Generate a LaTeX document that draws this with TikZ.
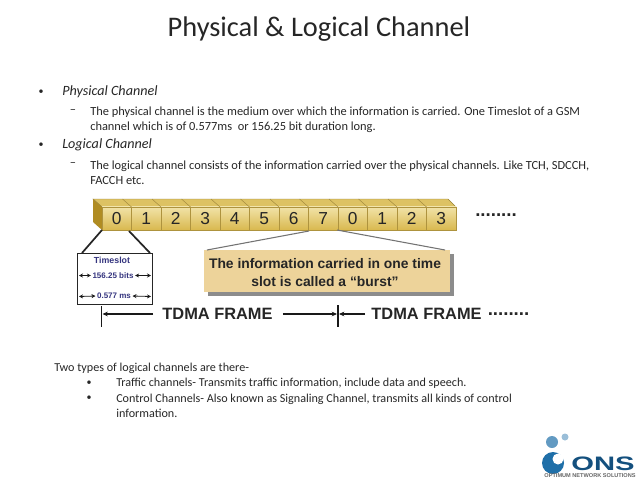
\documentclass[tikz,border=0pt]{standalone}
\usepackage{fontspec}
\setmainfont{Carlito}
\newfontfamily\figfont{Liberation Sans}
\usepackage{tikz}
\usetikzlibrary{arrows.meta}
\definecolor{SlotTop}{HTML}{DDC263}
\definecolor{SlotSide}{HTML}{B08C22}
\definecolor{SlotLight}{HTML}{F1E3A8}
\definecolor{SlotDark}{HTML}{D9B84E}
\definecolor{BurstFill}{HTML}{EDD39A}
\definecolor{SlotNavy}{HTML}{35357F}
\definecolor{LogoBlue}{HTML}{1F6FA8}
\definecolor{LogoDark}{HTML}{14507E}
\tikzset{
  headline/.style={anchor=center,font=\fontsize{21.3}{25}\selectfont,text=black!85},
  bodytext/.style={anchor=west,align=left,inner sep=0pt,font=\fontsize{9.3}{11.25}\selectfont,text=black!85},
  lowertext/.style={anchor=west,align=left,inner sep=0pt,font=\fontsize{9.1}{11.25}\selectfont,text=black!85},
  toptext/.style={anchor=west,inner sep=0pt,font=\fontsize{10.6}{12}\itshape\selectfont,text=black!85},
  mark dot/.style={anchor=center,inner sep=0pt,font=\fontsize{7.5}{9}\selectfont,text=black!85},
  slotcell/.style={draw=SlotDark!80!black,line width=0.3pt,top color=SlotLight,bottom color=SlotDark,minimum width=22.1pt,minimum height=17.3pt,inner sep=0pt,font=\figfont\fontsize{13}{14}\selectfont,text=black!85},
  slotface/.style={fill=SlotTop,draw=SlotDark!70!black,line width=0.3pt},
  infobox/.style={draw=black!85,fill=white,line width=0.7pt,minimum width=56.2pt,minimum height=38.2pt,inner sep=0pt},
  infotext/.style={inner sep=0pt,font=\figfont\fontsize{6}{7}\bfseries\selectfont,text=SlotNavy},
  burstbox/.style={fill=BurstFill,minimum width=184.5pt,minimum height=31.5pt,inner sep=0pt},
  bursttext/.style={inner sep=0pt,align=center,font=\figfont\fontsize{10.4}{13.2}\bfseries\selectfont,text=black!85},
  framelabel/.style={inner sep=0pt,font=\figfont\fontsize{12.3}{14}\bfseries\selectfont,text=black!85},
  framedots/.style={inner sep=0pt,font=\figfont\fontsize{14}{14}\bfseries\selectfont,text=black!85},
  frameline/.style={draw=black!90,line width=0.9pt,-{Stealth[length=4pt,width=3.5pt]}},
  frametick/.style={draw=black!90,line width=1.4pt},
  spanline/.style={draw=black!90,line width=0.6pt,{Stealth[length=3pt,width=3pt]}-{Stealth[length=3pt,width=3pt]}},
}
\begin{document}
\begin{tikzpicture}[x=0.75pt,y=-0.75pt]
\useasboundingbox (0,0) rectangle (638,479);
\node[headline] (title) at (319,29.5) {Physical \& Logical Channel};
\node[mark dot] (b1) at (41,92) {•};
\node[toptext] (physical) at (62,92) {Physical Channel};
\node[mark dot] (d1) at (73,112) {\fontsize{9.3}{11}\selectfont –};
\node[bodytext] (physicaltext) at (90,119.5) {The physical channel is the medium over which the information is carried. One Timeslot of a GSM\\channel which is of 0.577ms\ \ or 156.25 bit duration long.};
\node[mark dot] (b2) at (41,145) {•};
\node[toptext] (logical) at (62,145) {Logical Channel};
\node[mark dot] (d2) at (73,165) {\fontsize{9.3}{11}\selectfont –};
\node[bodytext] (logicaltext) at (90,172.5) {The logical channel consists of the information carried over the physical channels. Like TCH, SDCCH,\\FACCH etc.};
\fill[SlotTop,draw=SlotDark!70!black,line width=0.3pt] (93,199) -- (448,199) -- (456,207) -- (102,207) -- cycle;
\fill[SlotSide] (93,199) -- (102,207) -- (102,230) -- (93,222) -- cycle;
\foreach \i/\lab in {0/0,1/1,2/2,3/3,4/4,5/5,6/6,7/7,8/0,9/1,10/2,11/3} {
  \node[slotcell] (slot\i) at ({116.75+29.5*\i},218.5) {\lab};
  \draw[slotface] ({93+29.5*\i},199) -- ({102+29.5*\i},207);
}
\node[framedots] (topdots) at (496,215) {........};
\node[infobox] (timeslot) at (114.5,278.5) {};
\coordinate (tsleft) at (102,230);
\coordinate (tsright) at (129,231);
\coordinate (boxleft) at (82,253);
\coordinate (boxright) at (150,253);
\draw[line width=1.3pt,black!85] (tsleft) -- (boxleft);
\draw[line width=1.3pt,black!85] (tsright) -- (boxright);
\node[infotext] (tstitle) at (112,260) {\fontsize{6.6}{8}\selectfont Timeslot};
\node[infotext,fill=white,inner xsep=1pt] (tsbits) at (113,275.5) {156.25 bits};
\node[infotext,fill=white,inner xsep=1pt] (tsms) at (114,296) {0.577 ms};
\coordinate (bitsl) at (79,275.5);
\coordinate (bitsr) at (151,275.5);
\coordinate (msl) at (79,296.5);
\coordinate (msr) at (151,296.5);
\draw[spanline] (bitsl) -- (tsbits.west);
\draw[spanline] (bitsr) -- (tsbits.east);
\draw[spanline] (msl) -- (tsms.west);
\draw[spanline] (msr) -- (tsms.east);
\fill[black!45] (208,254) rectangle (454,296);
\node[burstbox] (burst) at (327,271) {};
\node[bursttext] (bursttext) at (325,272.5) {The information carried in one time\\slot is called a “burst”};
\coordinate (burstl) at (309,231);
\coordinate (burstr) at (337,230);
\coordinate (burstbl) at (207,250);
\coordinate (burstbr) at (445,250);
\draw[line width=0.8pt,black!55] (burstl) -- (burstbl);
\draw[line width=0.8pt,black!55] (burstr) -- (burstbr);
\node[framelabel] (frameone) at (217.5,314) {TDMA FRAME};
\node[framelabel] (frametwo) at (426.5,314) {TDMA FRAME};
\node[framedots] (framedotsr) at (508.5,314) {........};
\coordinate (tick1a) at (101.5,306);
\coordinate (tick1b) at (101.5,327);
\coordinate (tick2a) at (338,305);
\coordinate (tick2b) at (338,327);
\coordinate (tick1m) at (102.5,314);
\coordinate (tick2m) at (337,314);
\coordinate (tick2n) at (339,314);
\draw[frametick] (tick1a) -- (tick1b);
\draw[frametick] (tick2a) -- (tick2b);
\draw[frameline] (frameone.west) ++(-9,0) -- (tick1m);
\draw[frameline] (frameone.east) ++(10,0) -- (tick2m);
\draw[frameline] (frametwo.west) ++(-6,0) -- (tick2n);
\node[lowertext] (twotypes) at (54,368) {Two types of logical channels are there-};
\node[mark dot] (b3) at (89,383) {•};
\node[lowertext] (traffic) at (116,383) {Traffic channels- Transmits traffic information, include data and speech.};
\node[mark dot] (b4) at (89,398) {•};
\node[lowertext] (control) at (116,405.5) {Control Channels- Also known as Signaling Channel, transmits all kinds of control\\information.};
\fill[LogoBlue!70!white] (552,442) circle (6);
\fill[LogoBlue!45!white] (565,437) circle (3.5);
\fill[LogoBlue] (553,463) circle (11);
\fill[white] (558,459) circle (5.5);
\node[inner sep=0pt,xscale=1.5,font=\figfont\fontsize{14.6}{15}\bfseries\selectfont,text=LogoDark] (logoname) at (603,463.5) {ONS};
\node[inner sep=0pt,font=\figfont\fontsize{4.2}{5}\bfseries\selectfont,text=black!60] (logotag) at (590,476) {OPTIMUM NETWORK SOLUTIONS};
\end{tikzpicture}
\end{document}
